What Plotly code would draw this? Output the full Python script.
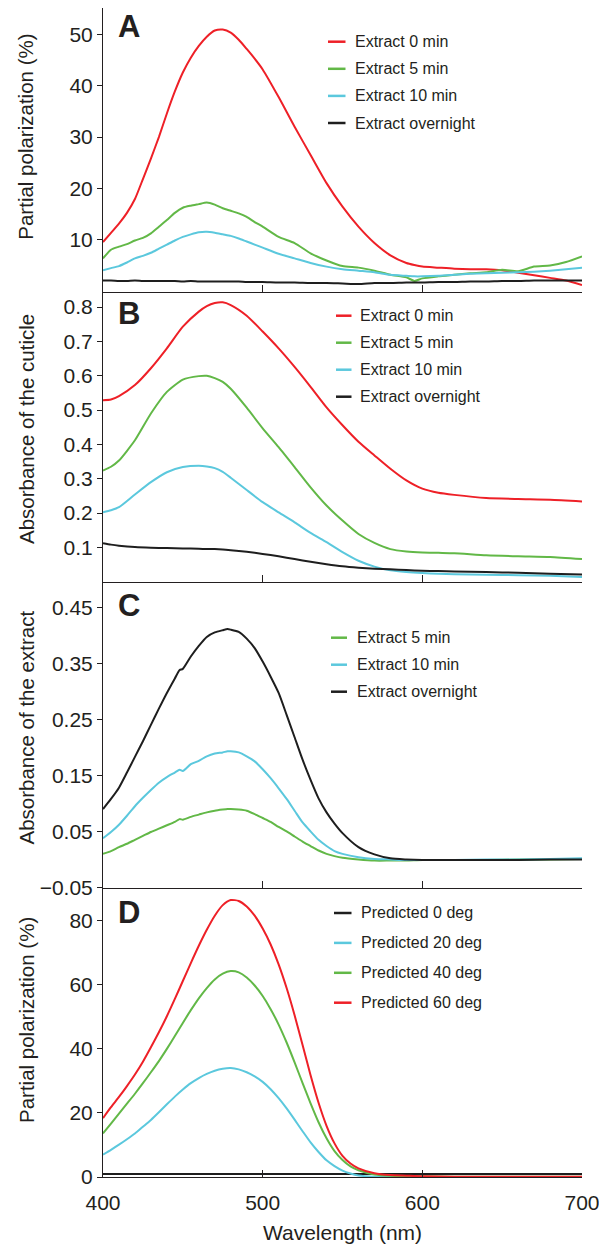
import plotly.graph_objects as go

# ---------------- data ----------------
# Panel A: partial polarization (%) of the cuticle
WAVE_A = [400, 405, 410, 415, 420, 425, 430, 435, 440, 445, 450, 455, 460, 465, 470, 475,
          480, 485, 490, 495, 500, 510, 520, 530, 540, 550, 560, 570, 580, 590, 595, 600,
          610, 620, 630, 640, 650, 660, 670, 680, 690, 700]
A_EXT_0 = [9.5, 11.3, 13.1, 15.2, 17.9, 21.8, 25.8, 30.0, 34.6, 38.9, 42.6, 45.5, 47.8, 49.6,
           50.8, 51.0, 50.4, 49.0, 47.2, 45.3, 43.2, 37.8, 32.0, 26.5, 21.0, 16.4, 12.5, 9.3,
           6.9, 5.4, 5.0, 4.7, 4.5, 4.3, 4.2, 4.2, 4.0, 3.5, 3.0, 2.5, 2.0, 1.1]
A_EXT_5 = [6.3, 8.0, 8.6, 9.1, 9.8, 10.3, 11.2, 12.5, 13.8, 15.2, 16.2, 16.6, 16.9, 17.2,
           16.8, 16.1, 15.6, 15.1, 14.4, 13.4, 12.5, 10.5, 9.3, 7.3, 5.9, 4.8, 4.5, 3.9,
           3.1, 2.6, 1.9, 2.4, 2.8, 3.1, 3.4, 3.6, 4.1, 3.8, 4.7, 4.9, 5.6, 6.7]
A_EXT_10 = [4.0, 4.4, 4.8, 5.5, 6.3, 6.8, 7.4, 8.2, 9.0, 9.8, 10.5, 11.0, 11.4, 11.5,
            11.3, 11.0, 10.7, 10.2, 9.6, 9.0, 8.4, 7.2, 6.3, 5.4, 4.7, 4.2, 3.9, 3.6,
            3.1, 2.9, 2.8, 2.8, 2.9, 3.1, 3.3, 3.4, 3.5, 3.6, 3.7, 3.9, 4.2, 4.5]
A_EXT_ON = [2.0, 2.0, 1.9, 1.9, 2.0, 1.9, 1.9, 1.9, 1.9, 1.9, 1.8, 1.9, 1.8, 1.8,
            1.8, 1.8, 1.8, 1.8, 1.7, 1.7, 1.7, 1.6, 1.6, 1.5, 1.5, 1.4, 1.3, 1.5,
            1.5, 1.6, 1.6, 1.6, 1.7, 1.7, 1.8, 1.8, 1.9, 1.9, 2.0, 2.0, 2.0, 2.0]

# Panel B: absorbance of the cuticle
WAVE_B = [400, 405, 410, 420, 430, 440, 450, 460, 465, 470, 475, 480, 490, 500, 510, 520,
          530, 540, 550, 560, 570, 580, 590, 600, 610, 620, 640, 660, 680, 700]
B_EXT_0 = [0.529, 0.531, 0.541, 0.573, 0.622, 0.680, 0.743, 0.787, 0.803, 0.812, 0.814,
           0.806, 0.775, 0.729, 0.680, 0.626, 0.568, 0.508, 0.456, 0.408, 0.368, 0.329,
           0.295, 0.271, 0.259, 0.253, 0.244, 0.241, 0.239, 0.234]
B_EXT_5 = [0.324, 0.335, 0.353, 0.412, 0.490, 0.553, 0.589, 0.599, 0.600, 0.593, 0.582,
           0.562, 0.507, 0.447, 0.392, 0.334, 0.275, 0.222, 0.178, 0.139, 0.113, 0.095,
           0.088, 0.085, 0.084, 0.083, 0.077, 0.074, 0.072, 0.066]
B_EXT_10 = [0.202, 0.208, 0.217, 0.254, 0.290, 0.319, 0.334, 0.338, 0.336, 0.331, 0.320,
            0.303, 0.267, 0.232, 0.202, 0.173, 0.142, 0.115, 0.086, 0.061, 0.044, 0.033,
            0.028, 0.025, 0.023, 0.022, 0.020, 0.019, 0.017, 0.014]
B_EXT_ON = [0.112, 0.108, 0.105, 0.101, 0.099, 0.098, 0.097, 0.096, 0.095, 0.095, 0.094,
            0.092, 0.087, 0.081, 0.074, 0.066, 0.058, 0.051, 0.045, 0.041, 0.038, 0.036,
            0.034, 0.032, 0.031, 0.030, 0.028, 0.026, 0.023, 0.021]

# Panel C: absorbance of the extract
WAVE_C = [400, 405, 410, 415, 420, 425, 430, 435, 440, 445, 448, 450, 455, 460, 465, 470,
          475, 478, 480, 485, 490, 495, 500, 505, 510, 515, 520, 525, 530, 535, 540, 545,
          550, 560, 570, 580, 590, 600, 620, 640, 660, 680, 700]
C_EXT_5 = [0.010, 0.015, 0.022, 0.028, 0.035, 0.042, 0.049, 0.055, 0.061, 0.067, 0.072,
           0.071, 0.076, 0.080, 0.084, 0.087, 0.089, 0.090, 0.090, 0.089, 0.087, 0.081,
           0.074, 0.067, 0.058, 0.050, 0.041, 0.032, 0.024, 0.016, 0.010, 0.006, 0.003,
           0.000, -0.002, -0.002, -0.002, -0.001, -0.001, -0.001, 0.000, 0.000, 0.001]
C_EXT_10 = [0.038, 0.049, 0.062, 0.078, 0.095, 0.110, 0.124, 0.137, 0.147, 0.155, 0.160,
            0.158, 0.170, 0.176, 0.184, 0.189, 0.191, 0.193, 0.193, 0.191, 0.184, 0.175,
            0.161, 0.145, 0.127, 0.108, 0.087, 0.066, 0.050, 0.035, 0.024, 0.015, 0.010,
            0.004, 0.001, 0.000, -0.001, -0.001, -0.001, 0.000, 0.000, 0.001, 0.002]
C_EXT_ON = [0.090, 0.108, 0.128, 0.155, 0.183, 0.211, 0.240, 0.269, 0.297, 0.323, 0.338,
            0.340, 0.362, 0.381, 0.397, 0.405, 0.409, 0.411, 0.410, 0.406, 0.394, 0.377,
            0.353, 0.326, 0.297, 0.258, 0.218, 0.178, 0.142, 0.109, 0.084, 0.064, 0.047,
            0.022, 0.009, 0.002, 0.000, -0.001, -0.001, -0.001, -0.001, 0.000, 0.000]

# Panel D: predicted partial polarization (%)
WAVE_D = [400, 405, 410, 415, 420, 425, 430, 435, 440, 445, 450, 455, 460, 465, 470, 475,
          480, 485, 490, 495, 500, 505, 510, 515, 520, 525, 530, 535, 540, 545, 550, 555,
          560, 570, 580, 590, 600, 620, 650, 700]
D_PRED_0 = [0.9] * len(WAVE_D)
D_PRED_20 = [7.0, 8.5, 10.1, 11.8, 13.6, 15.7, 17.8, 20.2, 22.7, 25.1, 27.3, 29.3, 30.9,
             32.2, 33.2, 33.8, 34.0, 33.6, 32.7, 31.4, 29.7, 27.4, 24.6, 21.4, 17.9, 14.3,
             10.8, 7.8, 5.2, 3.4, 2.0, 1.1, 0.5, 0.1, 0.0, 0.0, 0.0, 0.0, 0.0, 0.0]
D_PRED_40 = [13.6, 16.7, 19.8, 22.9, 26.0, 29.3, 32.7, 36.2, 40.0, 44.0, 48.1, 52.1, 55.8,
             59.0, 61.7, 63.5, 64.3, 63.9, 62.3, 59.8, 56.5, 52.4, 47.6, 42.0, 35.8, 29.3,
             23.0, 17.1, 12.1, 8.1, 5.3, 3.3, 2.1, 0.8, 0.4, 0.3, 0.2, 0.1, 0.1, 0.1]
D_PRED_60 = [18.4, 21.8, 25.0, 28.4, 32.0, 36.0, 40.5, 45.2, 50.2, 55.6, 61.2, 66.8, 72.2,
             77.2, 81.6, 84.9, 86.5, 86.2, 84.5, 81.6, 77.6, 72.6, 66.4, 59.0, 50.5, 41.2,
             31.8, 23.2, 16.0, 10.5, 6.6, 4.2, 2.7, 1.2, 0.6, 0.4, 0.2, 0.1, 0.1, 0.1]

X_TICKS = [400, 500, 600, 700]
A_TICKS = [10, 20, 30, 40, 50]
B_TICKS = [0.1, 0.2, 0.3, 0.4, 0.5, 0.6, 0.7, 0.8]
C_TICKS = [-0.05, 0.05, 0.15, 0.25, 0.35, 0.45]
D_TICKS = [0, 20, 40, 60, 80]

# ---------------- styling ----------------
FONT = "Liberation Sans, Arial, Helvetica, sans-serif"
INK = "#231F20"
RED, GREEN, CYAN, BLACK = "#EE2027", "#62B847", "#5BC8DD", "#1E1E1E"

# the page body adds an 8 px margin, so the figure is made 8 px smaller on each side
PAGE_W, PAGE_H, BODY = 607, 1247, 8
W, H = PAGE_W - BODY, PAGE_H - BODY
PLOT_L, PLOT_R, PLOT_T, PLOT_B = 103, 582, 8, 1177  # plot area in page pixels
ML, MT = PLOT_L - BODY, PLOT_T - BODY
MR = W - (PLOT_R - BODY)
MB = H - (PLOT_B - BODY)
PW, PH = PLOT_R - PLOT_L, PLOT_B - PLOT_T


def fx(px):
    return (px - PLOT_L) / PW


def fy(py):
    return (PLOT_B - py) / PH


# panel pixel extents (top, bottom) in page pixels
BOUNDS = [(8, 291.7), (291.7, 581.7), (581.7, 887.5), (887.5, 1177.0)]

panels = [
    dict(wave=WAVE_A, series=[("Extract 0 min", A_EXT_0, RED), ("Extract 5 min", A_EXT_5, GREEN),
                              ("Extract 10 min", A_EXT_10, CYAN), ("Extract overnight", A_EXT_ON, BLACK)],
         yr=[-0.2, 55.2], ticks=A_TICKS, title="Partial polarization (%)", tc=136.7,
         letter="A", lc=("top", 8.2), leg=dict(x0=328, x1=345.5, tx=353, y0=41.7, dy=27.1)),
    dict(wave=WAVE_B, series=[("Extract 0 min", B_EXT_0, RED), ("Extract 5 min", B_EXT_5, GREEN),
                              ("Extract 10 min", B_EXT_10, CYAN), ("Extract overnight", B_EXT_ON, BLACK)],
         yr=[0, 0.845], ticks=B_TICKS, title="Absorbance of the cuticle", tc=429,
         letter="B", lc=("middle", 313), leg=dict(x0=336, x1=351.5, tx=358, y0=315.7, dy=27.0)),
    dict(wave=WAVE_C, series=[("Extract 5 min", C_EXT_5, GREEN), ("Extract 10 min", C_EXT_10, CYAN),
                              ("Extract overnight", C_EXT_ON, BLACK)],
         yr=[-0.05, 0.4955], ticks=C_TICKS, title="Absorbance of the extract", tc=727.5,
         letter="C", lc=("middle", 605), leg=dict(x0=331, x1=347, tx=355, y0=637.7, dy=27.0)),
    dict(wave=WAVE_D, series=[("Predicted 0 deg", D_PRED_0, BLACK), ("Predicted 20 deg", D_PRED_20, CYAN),
                              ("Predicted 40 deg", D_PRED_40, GREEN), ("Predicted 60 deg", D_PRED_60, RED)],
         yr=[0, 90.4], ticks=D_TICKS, title="Partial polarization (%)", tc=1020,
         letter="D", lc=("middle", 912.5), leg=dict(x0=334, x1=351.5, tx=359, y0=913, dy=29.9)),
]

fig = go.Figure()
annotations = []
shapes = []

for i, p in enumerate(panels):
    n = i + 1
    xa = "x" if n == 1 else f"x{n}"
    ya = "y" if n == 1 else f"y{n}"
    for name, vals, color in p["series"]:
        fig.add_trace(go.Scatter(x=p["wave"], y=vals, name=name, mode="lines",
                                 line=dict(color=color, width=2, shape="spline", smoothing=0.6),
                                 xaxis=xa, yaxis=ya, showlegend=False))
    top, bot = BOUNDS[i]
    last = (n == len(panels))
    fig.update_layout(**{
        ("xaxis" if n == 1 else f"xaxis{n}"): dict(
            domain=[0, 1], anchor=ya, range=[400, 700], tickvals=X_TICKS,
            showticklabels=last, ticks="inside", ticklen=7, tickwidth=1, tickcolor=INK,
            ticklabelstandoff=7,
            showline=True, linecolor=INK, linewidth=1, showgrid=False, zeroline=False,
            tickfont=dict(size=21, color=INK, family=FONT),
            title=dict(text="Wavelength (nm)" if last else "", font=dict(size=21, color=INK, family=FONT),
                       standoff=12),
        ),
        ("yaxis" if n == 1 else f"yaxis{n}"): dict(
            domain=[fy(bot), fy(top)], anchor=xa, range=p["yr"], tickvals=p["ticks"],
            ticks="outside", ticklen=5, tickwidth=1, tickcolor=INK,
            showline=True, linecolor=INK, linewidth=1, showgrid=False, zeroline=False,
            tickfont=dict(size=21, color=INK, family=FONT),
        ),
    })
    # y-axis title
    annotations.append(dict(text=p["title"], xref="paper", yref="paper", x=fx(26), y=fy(p["tc"]),
                            xanchor="center", yanchor="middle", textangle=-90, showarrow=False,
                            font=dict(size=20.5, color=INK, family=FONT)))
    # panel letter
    anchor, ly = p["lc"]
    annotations.append(dict(text=f"<b>{p['letter']}</b>", xref="paper", yref="paper", x=fx(117),
                            y=fy(ly), xanchor="left", yanchor=anchor, showarrow=False,
                            borderpad=0, font=dict(size=31, color=INK, family=FONT)))
    # legend
    lg = p["leg"]
    for k, (name, vals, color) in enumerate(p["series"]):
        yy = fy(lg["y0"] + k * lg["dy"])
        shapes.append(dict(type="line", xref="paper", yref="paper", x0=fx(lg["x0"]), x1=fx(lg["x1"]),
                           y0=yy, y1=yy, line=dict(color=color, width=2.5)))
        annotations.append(dict(text=name, xref="paper", yref="paper", x=fx(lg["tx"]), y=yy,
                                xanchor="left", yanchor="middle", showarrow=False,
                                font=dict(size=16, color=INK, family=FONT)))

fig.update_layout(
    width=W, height=H, margin=dict(l=ML, r=MR, t=MT, b=MB, pad=0),
    paper_bgcolor="white", plot_bgcolor="white",
    font=dict(family=FONT, color=INK),
    annotations=annotations, shapes=shapes, showlegend=False,
)

fig.write_html("out.html")
